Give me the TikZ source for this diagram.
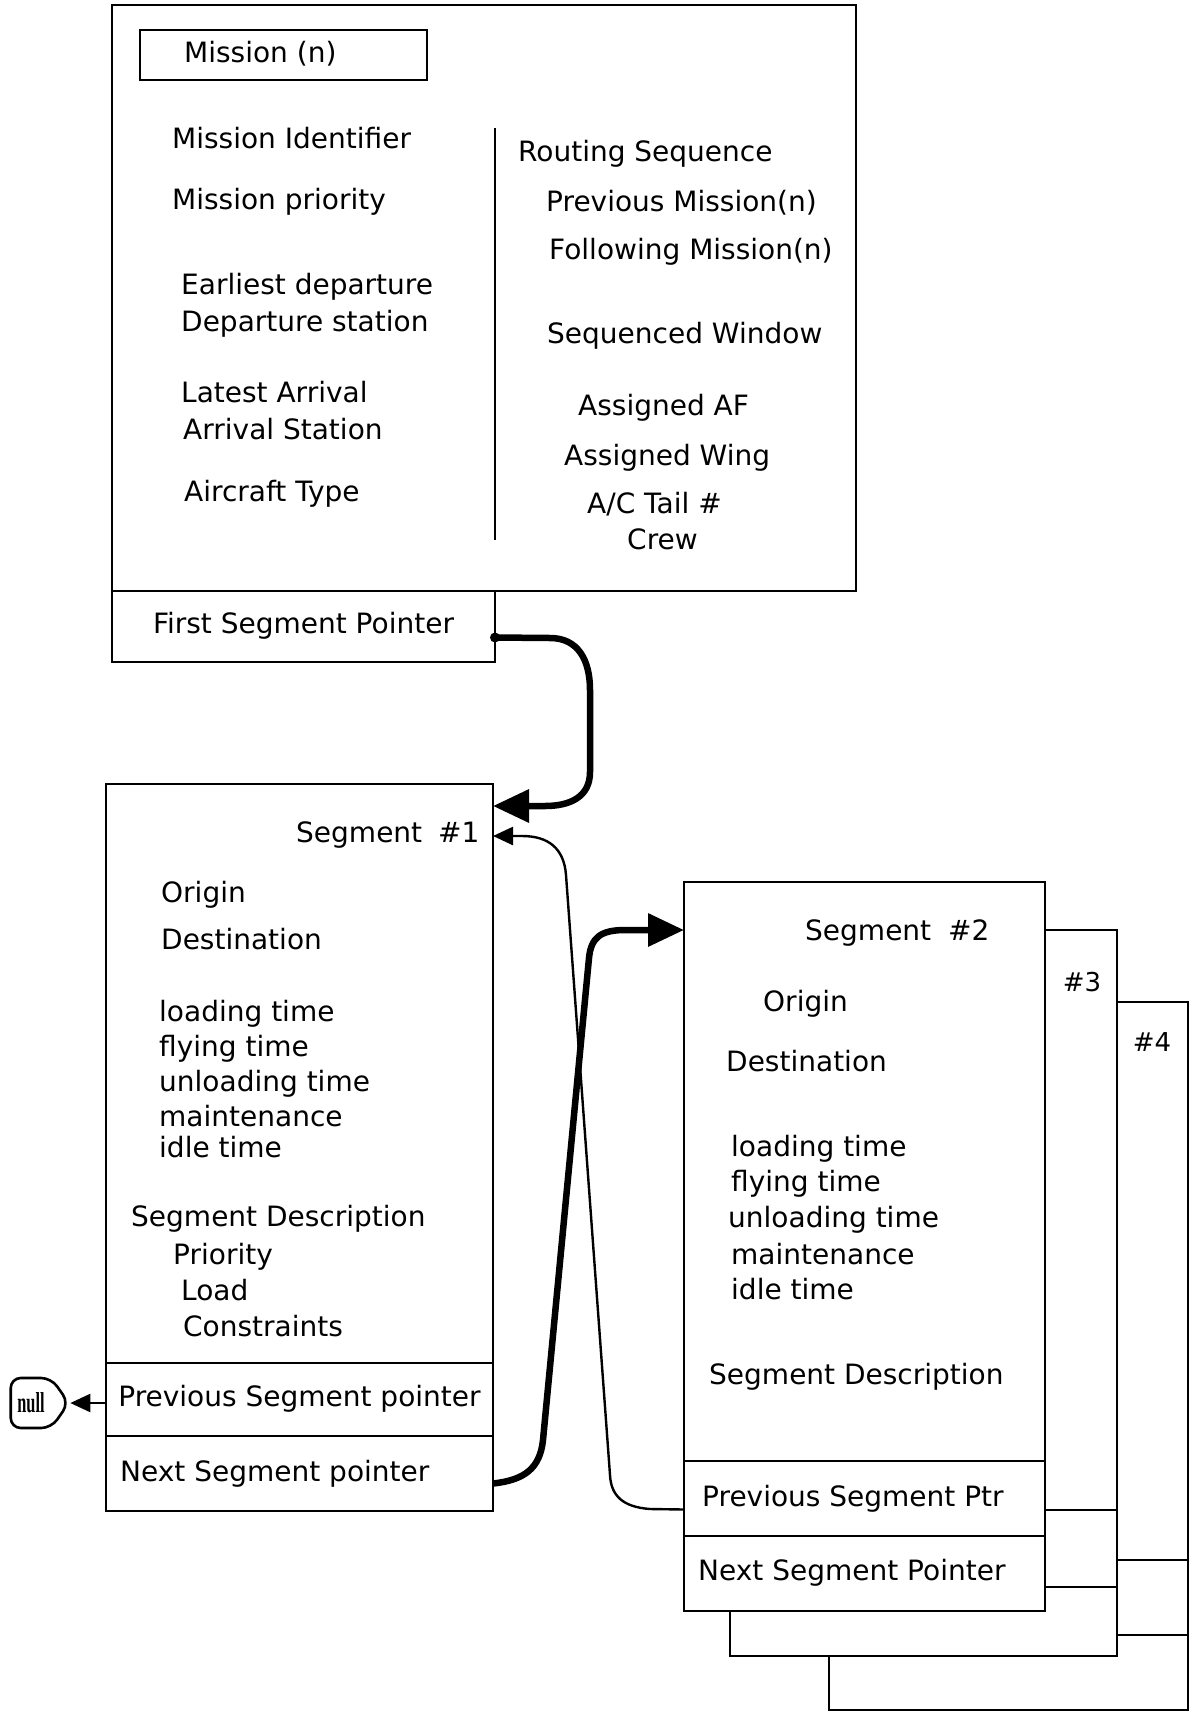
\documentclass[tikz,border=0pt]{standalone}
\usepackage{fontspec}
\usepackage{graphicx}
\setmainfont{DejaVu Sans}
\newfontfamily\nulltermfont{Liberation Serif}
\usetikzlibrary{arrows.meta,calc,shapes.symbols}
\begin{document}
\begin{tikzpicture}[x=1pt,y=-1pt,
  box/.style={draw, line width=2.8pt, inner sep=0pt, outer sep=0pt, anchor=north west},
  rowbox/.style={box, font=\fontsize{28}{32}\selectfont, text height=20pt, text depth=6pt},
  txt/.style={anchor=west, inner sep=0pt, font=\fontsize{28}{32}\selectfont, text height=20pt, text depth=6pt},
  numtxt/.style={inner sep=0pt, font=\fontsize{26}{30}\selectfont},
  thickarrow/.style={line width=6.5pt, -{Triangle[length=36pt,width=32pt]}},
  thinarrow/.style={line width=2.4pt, -{Triangle[length=20pt,width=18pt]}},
  lines/.style={line width=2.8pt}]
\useasboundingbox (0,0) rectangle (1192,1716);

% ---------------- Mission record ----------------
\node[box, minimum width=744pt, minimum height=586pt] (mission) at (112,5) {};
\node[box, minimum width=287pt, minimum height=50pt] (mtitle) at (140,30) {};
\node[txt] (tmt) at (184,55) {Mission (n)};
\draw[lines] (495,128) -- (495,540);

\node[txt] (m1) at (172,141) {Mission Identifier};
\node[txt] (m2) at (172,202) {Mission priority};
\node[txt] (m3) at (181,287) {Earliest departure};
\node[txt] (m4) at (181,324) {Departure station};
\node[txt] (m5) at (181,395) {Latest Arrival};
\node[txt] (m6) at (183,432) {Arrival Station};
\node[txt] (m7) at (184,494) {Aircraft Type};

\node[txt] (r1) at (518,154) {Routing Sequence};
\node[txt] (r2) at (546,204) {Previous Mission(n)};
\node[txt] (r3) at (549,252) {Following Mission(n)};
\node[txt] (r4) at (547,336) {Sequenced Window};
\node[txt] (r5) at (578,408) {Assigned AF};
\node[txt] (r6) at (564,458) {Assigned Wing};
\node[txt] (r7) at (587,506) {A/C Tail \#};
\node[txt] (r8) at (627,542) {Crew};

\node[rowbox, minimum width=383pt, minimum height=71pt] (fsp) at (112,591) {First Segment Pointer};

% ---------------- Segment #1 ----------------
\node[box, minimum width=387pt, minimum height=579pt] (seg1) at (106,784) {};
\node[rowbox, minimum width=387pt, minimum height=73pt] (seg1prev) at (106,1363) {Previous Segment pointer};
\node[box, minimum width=387pt, minimum height=75pt] (seg1next) at (106,1436) {};
\node[txt] (s1n) at (120,1474) {Next Segment pointer};

\node[txt] (s1a) at (296,835) {Segment};
\node[txt] (s1b) at (438,835) {\#1};
\node[txt] (s1c) at (161,895) {Origin};
\node[txt] (s1d) at (161,942) {Destination};
\node[txt] (s1e) at (159,1014) {loading time};
\node[txt] (s1f) at (159,1049) {flying time};
\node[txt] (s1g) at (159,1084) {unloading time};
\node[txt] (s1h) at (159,1119) {maintenance};
\node[txt] (s1i) at (159,1150) {idle time};
\node[txt] (s1j) at (131,1219) {Segment Description};
\node[txt] (s1k) at (173,1257) {Priority};
\node[txt] (s1l) at (181,1293) {Load};
\node[txt] (s1m) at (183,1329) {Constraints};

% null terminator
\node[draw, line width=2.6pt, shape=signal, signal to=east, signal pointer angle=110,
      rounded corners=10pt, minimum width=58pt, minimum height=50pt, inner sep=0pt]
      (null) at (31,1403) {\nulltermfont\bfseries\fontsize{24}{24}\selectfont\scalebox{0.68}[1.2]{null}};

% ---------------- stacked segments #3, #4 ----------------
\draw[lines] (1045,930) -- (1117,930) -- (1117,1656) -- (730,1656) -- (730,1611);
\draw[lines] (1045,1510) -- (1117,1510);
\draw[lines] (1045,1587) -- (1117,1587);
\draw[lines] (1117,1002) -- (1188,1002) -- (1188,1710) -- (829,1710) -- (829,1656);
\draw[lines] (1117,1560) -- (1188,1560);
\draw[lines] (1117,1635) -- (1188,1635);
\node[numtxt] (n3) at (1082,982) {\#3};
\node[numtxt] (n4) at (1152,1042) {\#4};

% ---------------- Segment #2 ----------------
\node[box, minimum width=361pt, minimum height=579pt] (seg2) at (684,882) {};
\node[box, minimum width=361pt, minimum height=75pt] (seg2prev) at (684,1461) {};
\node[box, minimum width=361pt, minimum height=75pt] (seg2next) at (684,1536) {};
\node[txt] (s2p) at (702,1499) {Previous Segment Ptr};
\node[txt] (s2n) at (698,1573) {Next Segment Pointer};

\node[txt] (s2a) at (805,933) {Segment};
\node[txt] (s2b) at (948,933) {\#2};
\node[txt] (s2c) at (763,1004) {Origin};
\node[txt] (s2d) at (726,1064) {Destination};
\node[txt] (s2e) at (731,1149) {loading time};
\node[txt] (s2f) at (731,1184) {flying time};
\node[txt] (s2g) at (728,1220) {unloading time};
\node[txt] (s2h) at (731,1257) {maintenance};
\node[txt] (s2i) at (731,1292) {idle time};
\node[txt] (s2j) at (709,1377) {Segment Description};

% ---------------- connectors ----------------
\fill ($(fsp.east)+(0,11)$) circle (5pt);
\draw[thickarrow] ($(fsp.east)+(0,11)$) -- (550,638)
   .. controls (578,638) and (590,660) .. (590,690) -- (590,772)
   .. controls (590,797) and (570,806) .. (545,806) -- ($(seg1.north east)+(0,22)$);

\draw[thickarrow] ($(seg1next.east)+(0,10)$)
   .. controls (525,1480) and (540,1468) .. (543,1440) -- (589,958)
   .. controls (591,938) and (600,930) .. (625,930) -- ($(seg2.north west)+(0,48)$);

\draw[thinarrow] ($(seg2prev.west)+(0,11)$) -- (650,1509)
   .. controls (622,1507) and (611,1495) .. (610,1475) -- (566,875)
   .. controls (564,848) and (548,836) .. (522,836) -- ($(seg1.north east)+(0,52)$);

\draw[thinarrow] (seg1prev.west |- null.east) -- (null.east);
\end{tikzpicture}
\end{document}
